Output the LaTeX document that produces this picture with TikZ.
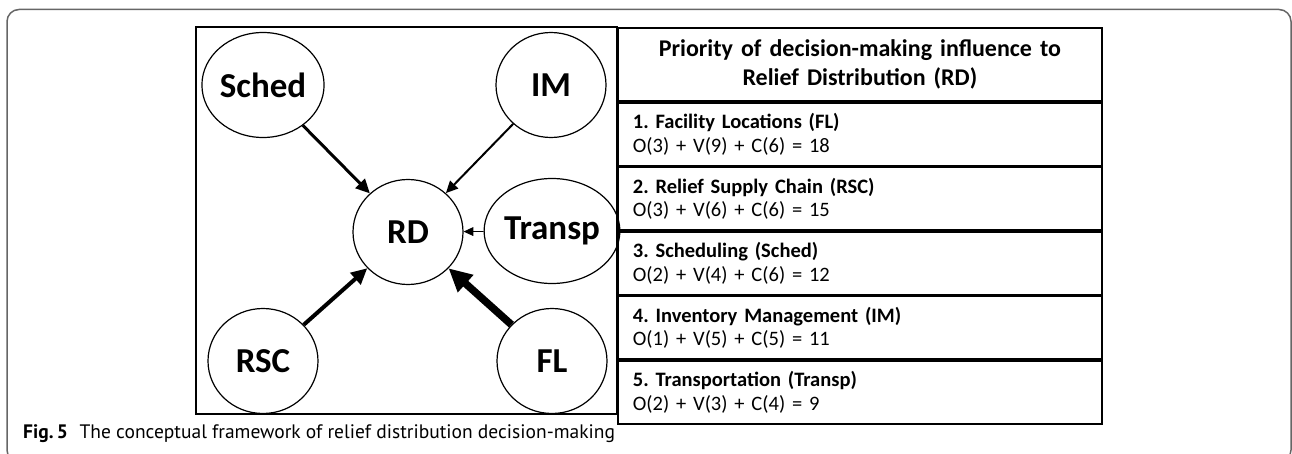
\documentclass[tikz,border=0pt]{standalone}
\usepackage{fontspec}
\setmainfont{Carlito}
\newfontfamily\capfont{PT Sans}
\usetikzlibrary{shapes.geometric,arrows.meta,positioning}
\frenchspacing

\begin{document}
\begin{tikzpicture}[x=1pt,y=-1pt,
  factor/.style={draw, ellipse, line width=1.2pt, minimum width=110pt, minimum height=105pt, inner sep=0pt, font=\fontsize{35}{35}\selectfont\bfseries},
  infl/.style={line width=#1, -{Triangle[length=8pt 2, width=7pt 2]}},
  prio/.style={draw, line width=1.8pt, text width=454pt, inner xsep=15pt, inner ysep=1pt, minimum height=62.8pt, align=left, font=\fontsize{20.5}{23.5}\selectfont}]
\useasboundingbox (0,0) rectangle (1292,454);
\draw[line width=1.5pt, draw=black!60, rounded corners=12pt] (7,9.5) rectangle (1291,462);
\draw[line width=1.8pt] (196,27) rectangle (617,414);
% factors around relief distribution
\node[factor] (sched) at (263,85) {Sched};
\node[factor] (im) at (551,85) {IM};
\node[factor] (rd) at (408,232) {RD};
\node[factor] (transp) at (552,231) {Transp};
\node[factor] (rsc) at (263,361) {RSC};
\node[factor] (fl) at (552,361) {FL};
\draw[infl=3pt] (sched) -- (rd);
\draw[infl=2pt] (im) -- (rd);
\draw[infl=0.9pt] (transp) -- (rd);
\draw[infl=4pt] (rsc) -- (rd);
\draw[infl=7.5pt] (fl) -- (rd);
% priority table
\node[prio, anchor=north west, minimum height=73pt, align=center, font=\fontsize{24}{29}\selectfont\bfseries] (hdr) at (617,27) {Priority of decision-making influence to\\Relief Distribution (RD)};
\node[prio, below=0pt of hdr] (prio1) {\textbf{1. Facility Locations (FL)}\\O(3) + V(9) + C(6) = 18};
\node[prio, below=0pt of prio1] (prio2) {\textbf{2. Relief Supply Chain (RSC)}\\O(3) + V(6) + C(6) = 15};
\node[prio, below=0pt of prio2] (prio3) {\textbf{3. Scheduling (Sched)}\\O(2) + V(4) + C(6) = 12};
\node[prio, below=0pt of prio3] (prio4) {\textbf{4. Inventory Management (IM)}\\O(1) + V(5) + C(5) = 11};
\node[prio, below=0pt of prio4] (prio5) {\textbf{5. Transportation (Transp)}\\O(2) + V(3) + C(4) = 9};
\node[anchor=west, inner sep=0pt, font=\capfont\fontsize{19.5}{19.5}\selectfont] (cap) at (23,434) {\textbf{Fig.\,5}\hspace{0.6em}The conceptual framework of relief distribution decision-making};
\end{tikzpicture}
\end{document}
